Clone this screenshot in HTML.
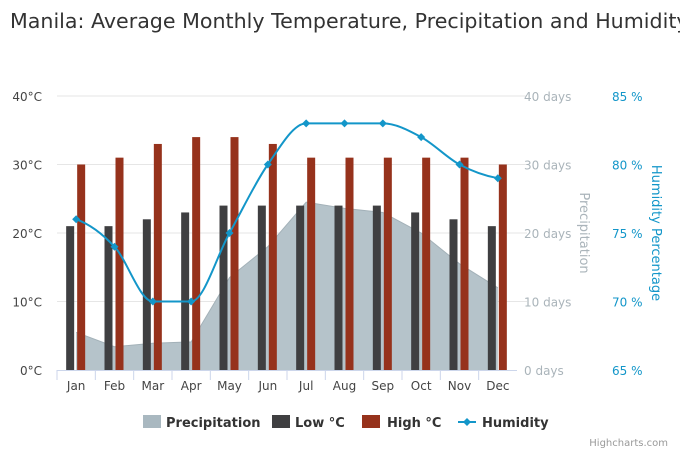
<!DOCTYPE html>
<html><head><meta charset="utf-8"><style>
body{margin:0;background:#fff;width:680px;height:452px;overflow:hidden}
svg{display:block;font-family:"DejaVu Sans","Liberation Sans",sans-serif}
</style></head><body>
<svg id="c" width="680" height="452">
<text x="10" y="28" font-size="20.6" fill="#333">Manila: Average Monthly Temperature, Precipitation and Humidity</text>
<g id="grid"></g><g id="precip"></g><g id="bars"></g><g id="hum"></g><g id="axes"></g>
<g font-size="13" font-weight="bold" fill="#333">
<g><rect x="143" y="415" width="18" height="13" fill="#a9b8c0"/><text x="166" y="427">Precipitation</text></g>
<g><rect x="272" y="415" width="18" height="13" fill="#3f3f41"/><text x="295" y="427">Low °C</text></g>
<g><rect x="362" y="415" width="18" height="13" fill="#96321c"/><text x="387" y="427">High °C</text></g>
<g><line x1="458" y1="422" x2="476" y2="422" stroke="#1396c9" stroke-width="2"/><path d="M467 418L471 422L467 426L463 422Z" fill="#1396c9"/><text x="482" y="427">Humidity</text></g>
</g>
<text x="668" y="446" font-size="10" fill="#999" text-anchor="end">Highcharts.com</text>
</svg>
<script>
const months=["Jan","Feb","Mar","Apr","May","Jun","Jul","Aug","Sep","Oct","Nov","Dec"];
const precipitation=[5.5,3.4,3.9,4.1,13.5,18,24.5,23.6,23,20,15.5,12];
const lowTemp=[21,21,22,23,24,24,24,24,24,23,22,21];
const highTemp=[30,31,33,34,34,33,31,31,31,31,31,30];
const humidity=[76,74,70,70,75,80,83,83,83,82,80,79];
const tempTicks=["0°C","10°C","20°C","30°C","40°C"];
const precipTicks=["0 days","10 days","20 days","30 days","40 days"];
const humTicks=["65 %","70 %","75 %","80 %","85 %"];
const NS="http://www.w3.org/2000/svg";
const L=57,R=517,T=96,B=370,cw=(R-L)/12;
const xC=i=>L+cw*(i+0.5);
const yT=v=>B-(v/40)*(B-T);
const yP=v=>B-(v/40)*(B-T);
const yH=v=>B-((v-65)/20)*(B-T);
function mk(tag,attrs,parent,txt){const e=document.createElementNS(NS,tag);for(const k in attrs)e.setAttribute(k,attrs[k]);if(txt!=null)e.textContent=txt;document.getElementById(parent).appendChild(e);return e;}
for(let i=0;i<5;i++){const y=B-i*(B-T)/4;
 if(i>0){const g=mk("line",{x1:L,x2:R+10,y1:y,y2:y,stroke:"#e6e6e6"},"grid");}
 let t=mk("text",{x:42,y:y+5,"font-size":12,fill:"#444","text-anchor":"end"},"axes",tempTicks[i]);
 t=mk("text",{x:524,y:y+5,"font-size":12,fill:"#aab4ba"},"axes",precipTicks[i]);
 t=mk("text",{x:612,y:y+5,"font-size":12,fill:"#1396c9"},"axes",humTicks[i]);
}
let t=mk("text",{x:0,y:0,"font-size":13,fill:"#aab4ba","text-anchor":"middle",transform:"translate(580,233) rotate(90)"},"axes","Precipitation");
t=mk("text",{x:0,y:0,"font-size":13,fill:"#1396c9","text-anchor":"middle",transform:"translate(652,233) rotate(90)"},"axes","Humidity Percentage");
let a=mk("line",{x1:L,x2:R,y1:B+0.5,y2:B+0.5,stroke:"#ccd6eb"},"axes");
months.forEach((m,i)=>{
 const tk=mk("line",{x1:L+cw*i,x2:L+cw*i,y1:B,y2:B+10,stroke:"#ccd6eb"},"axes");
 const lb=mk("text",{x:xC(i),y:B+20,"font-size":12,fill:"#444","text-anchor":"middle"},"axes",m);
});
let d="M"+xC(0)+","+B;precipitation.forEach((v,i)=>d+=" L"+xC(i)+","+yP(v));d+=" L"+xC(11)+","+B+"Z";
let p=mk("path",{d:d,fill:"#b5c3ca"},"precip");
d="";precipitation.forEach((v,i)=>d+=(i?" L":"M")+xC(i)+","+yP(v));
p=mk("path",{d:d,fill:"none",stroke:"#a3b1b8","stroke-width":1},"precip");
months.forEach((m,i)=>{
 let b=mk("rect",{x:xC(i)-10,y:yT(lowTemp[i]),width:8,height:B-yT(lowTemp[i]),fill:"#3f3f41"},"bars");
 b=mk("rect",{x:xC(i)+1,y:yT(highTemp[i]),width:8,height:B-yT(highTemp[i]),fill:"#96321c"},"bars");
});
const pts=humidity.map((v,i)=>[xC(i),yH(v)]);
d="M"+pts[0][0]+","+pts[0][1];
for(let i=0;i<pts.length-1;i++){const p0=pts[Math.max(0,i-1)],p1=pts[i],p2=pts[i+1],p3=pts[Math.min(pts.length-1,i+2)];
 let c1y=p1[1]+(p2[1]-p0[1])/6,c2y=p2[1]-(p3[1]-p1[1])/6;
 if(p1[1]===p2[1]){c1y=p1[1];c2y=p2[1];}
 if(i>0&&pts[i-1][1]===p1[1])c1y=p1[1];
 if(i+2<pts.length&&p3[1]===p2[1])c2y=p2[1];
 d+=" C"+(p1[0]+cw/3)+","+c1y+" "+(p2[0]-cw/3)+","+c2y+" "+p2[0]+","+p2[1];}
p=mk("path",{d:d,fill:"none",stroke:"#1396c9","stroke-width":2},"hum");
pts.forEach((q,i)=>{const mkr=mk("path",{d:`M${q[0]} ${q[1]-4}L${q[0]+4} ${q[1]}L${q[0]} ${q[1]+4}L${q[0]-4} ${q[1]}Z`,fill:"#1396c9"},"hum");});
</script>
</body></html>
